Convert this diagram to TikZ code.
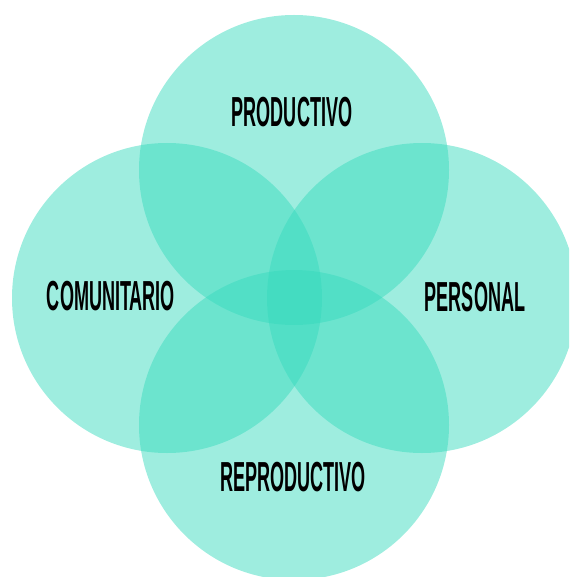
\documentclass[tikz,border=0pt]{standalone}
\usepackage{fontspec}
\setmainfont{Liberation Sans}
\usepackage{graphicx}

\definecolor{turquesa}{RGB}{55,218,189}
\newcommand{\etiq}[1]{\scalebox{0.43}[1]{\fontsize{42}{42}\selectfont\bfseries #1}}

\tikzset{area/.style = {fill = turquesa, fill opacity = 0.485, draw = none},
         etiqueta/.style = {inner sep = 0pt, text = black}
        }

\begin{document}
\begin{tikzpicture}[x=1pt, y=-1pt]
  \clip (0,0) rectangle (569,577);
  % los cuatro circulos
  \fill[area] (294,170) circle (155);
  \fill[area] (167,298) circle (155);
  \fill[area] (422,298) circle (155);
  \fill[area] (294,425) circle (155);
  % etiquetas
  \node[etiqueta] (productivo)   at (292,112) {\etiq{PRODUCTIVO}};
  \node[etiqueta] (comunitario)  at (111,296) {\etiq{COMUNITARIO}};
  \node[etiqueta] (personal)     at (475,297) {\etiq{PERSONAL}};
  \node[etiqueta] (reproductivo) at (293,477) {\etiq{REPRODUCTIVO}};
\end{tikzpicture}
\end{document}
